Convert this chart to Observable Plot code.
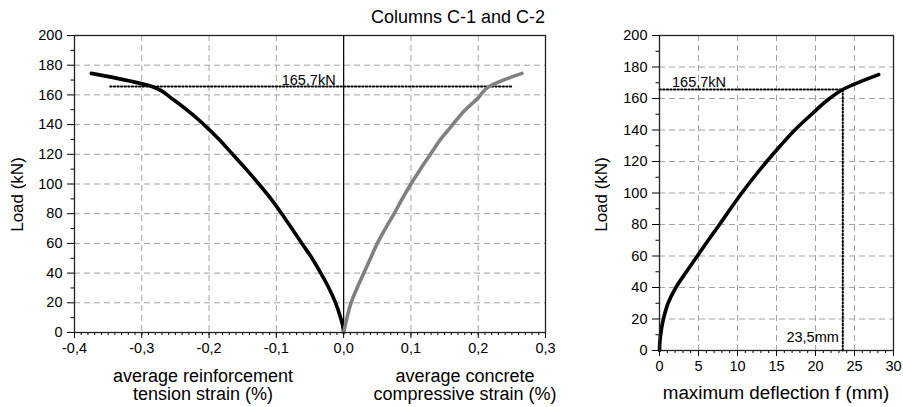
<!DOCTYPE html>
<html>
<head>
<meta charset="utf-8">
<script src="https://cdn.jsdelivr.net/npm/d3@7"></script>
<script src="https://cdn.jsdelivr.net/npm/@observablehq/plot@0.6"></script>
<style>
  body { margin: 0; background: #fff; }
  #wrap { position: relative; width: 903px; height: 407px; overflow: hidden;
          font-family: "Liberation Sans", Arial, sans-serif; color: #000; background: #fff; }
  .lbl { position: absolute; white-space: nowrap; line-height: 1; text-align: center; }
</style>
</head>
<body>
<div id="wrap"></div>
<script>
// ---------- data ----------
const tensionLoad   = [0, 5, 10, 20, 30, 40, 50, 60, 70, 80, 90, 100, 110, 120, 130, 138, 148, 157, 165.7, 174.5];
const tensionStrain = [0, -0.0015, -0.0045, -0.012, -0.022, -0.034, -0.047, -0.062, -0.077, -0.092, -0.108, -0.126, -0.145, -0.165, -0.185, -0.203, -0.228, -0.254, -0.285, -0.375];

const compLoad   = [0, 5, 10, 20, 30, 40, 50, 60, 70, 80, 90, 100, 110, 120, 130, 138, 150, 158, 165.5, 174.5];
const compStrain = [0, 0.0025, 0.005, 0.011, 0.020, 0.030, 0.040, 0.050, 0.062, 0.075, 0.087, 0.100, 0.114, 0.129, 0.144, 0.1585, 0.181, 0.200, 0.2155, 0.265];

const deflLoad  = [0, 5, 10, 20, 30, 40, 50, 60, 70, 80, 90, 100, 110, 120, 130, 140, 150, 160, 165.7, 175.2];
const deflValue = [0, 0.04, 0.14, 0.5, 1.1, 2.1, 3.45, 4.85, 6.25, 7.7, 9.1, 10.55, 12.1, 13.75, 15.5, 17.35, 19.5, 21.8, 23.5, 28.1];

const peakLoad = 165.7;          // kN
const peakDeflection = 23.5;     // mm
const peakLineStrain = [-0.347, 0.251];

const loadTicks   = [0, 20, 40, 60, 80, 100, 120, 140, 160, 180, 200];
const strainTicks = [-0.4, -0.3, -0.2, -0.1, 0, 0.1, 0.2, 0.3];
const deflTicks   = [0, 5, 10, 15, 20, 25, 30];

const loadMinor   = d3.range(10, 200, 20);
const strainMinor = d3.range(-40, 31, 1).map(d => d / 100);
const deflMinor   = d3.range(0, 31, 1);

// ---------- helpers ----------
const FONT = '"Liberation Sans", Arial, sans-serif';
const gridStyle = {stroke: "#a3a3a3", strokeOpacity: 1, strokeWidth: 1, strokeDasharray: "6,4"};
const dotted = {stroke: "#000", strokeWidth: 2, strokeDasharray: "1.4,2.2"};
const fmtStrain = d => (d < -1e-9 ? "-" : "") + Math.abs(d).toFixed(1).replace(".", ",");

const tension = tensionLoad.map((l, i) => ({strain: tensionStrain[i], load: l}));
const comp = compLoad.map((l, i) => ({strain: compStrain[i], load: l}));
const defl = deflLoad.map((l, i) => ({f: deflValue[i], load: l}));

const wrap = document.getElementById("wrap");

// ---------- left chart ----------
const left = Plot.plot({
  width: 560, height: 407,
  marginLeft: 74, marginRight: 15, marginTop: 35, marginBottom: 75,
  x: {domain: [-0.4, 0.3]},
  y: {domain: [0, 200]},
  style: {fontFamily: FONT, fontSize: "14.5px", background: "transparent", color: "#000"},
  marks: [
    Plot.gridX(strainTicks, gridStyle),
    Plot.gridY(loadTicks, gridStyle),
    Plot.ruleX([0], {stroke: "#000", strokeWidth: 1.2}),
    Plot.line(peakLineStrain.map(s => ({strain: s, load: peakLoad})), {x: "strain", y: "load", ...dotted}),
    Plot.line(tension, {x: "strain", y: "load", stroke: "#000", strokeWidth: 3.6, curve: "monotone-y", strokeLinejoin: "round"}),
    Plot.line(comp, {x: "strain", y: "load", stroke: "#808080", strokeWidth: 3.6, curve: "monotone-y", strokeLinejoin: "round"}),
    Plot.text([{strain: 0, load: peakLoad}], {x: "strain", y: "load", text: () => "165,7kN", textAnchor: "end", dx: -8, dy: -6, fontSize: 14.5}),
    Plot.axisX(strainTicks, {tickSize: 6, tickPadding: 4, tickFormat: fmtStrain, label: null}),
    Plot.axisX(strainMinor, {tickSize: 3, tickFormat: () => "", label: null}),
    Plot.axisY(loadTicks, {tickSize: 7, tickPadding: 5, label: null}),
    Plot.axisY(loadMinor, {tickSize: 3.5, tickFormat: () => "", label: null}),
    Plot.frame({stroke: "#222", strokeWidth: 1.3})
  ]
});
left.style.position = "absolute";
left.style.left = "0px";
left.style.top = "0px";
wrap.appendChild(left);

// ---------- right chart ----------
const right = Plot.plot({
  width: 343, height: 407,
  marginLeft: 99, marginRight: 10, marginTop: 35, marginBottom: 57,
  x: {domain: [0, 30]},
  y: {domain: [0, 200]},
  style: {fontFamily: FONT, fontSize: "14.5px", background: "transparent", color: "#000"},
  marks: [
    Plot.gridX(deflTicks, gridStyle),
    Plot.gridY(loadTicks, gridStyle),
    Plot.line([{f: 0, load: peakLoad}, {f: peakDeflection, load: peakLoad}, {f: peakDeflection, load: 0}], {x: "f", y: "load", ...dotted}),
    Plot.line(defl, {x: "f", y: "load", stroke: "#000", strokeWidth: 3.6, curve: "monotone-y", strokeLinejoin: "round"}),
    Plot.text([{f: 0, load: peakLoad}], {x: "f", y: "load", text: () => "165,7kN", textAnchor: "start", dx: 12.5, dy: -7.5, fontSize: 14.5}),
    Plot.text([{f: peakDeflection, load: 0}], {x: "f", y: "load", text: () => "23,5mm", textAnchor: "end", dx: -4, dy: -13.5, fontSize: 14.5}),
    Plot.axisX(deflTicks, {tickSize: 6, tickPadding: 4, label: null}),
    Plot.axisX(deflMinor, {tickSize: 3, tickFormat: () => "", label: null}),
    Plot.axisY(loadTicks, {tickSize: 7, tickPadding: 5, label: null}),
    Plot.axisY(loadMinor, {tickSize: 3.5, tickFormat: () => "", label: null}),
    Plot.frame({stroke: "#222", strokeWidth: 1.3})
  ]
});
right.style.position = "absolute";
right.style.left = "560px";
right.style.top = "0px";
wrap.appendChild(right);

// ---------- text labels ----------
function addLabel(text, cx, baseline, fs, opts = {}) {
  const d = document.createElement("div");
  d.className = "lbl";
  d.textContent = text;
  d.style.fontSize = fs + "px";
  const w = 320;
  if (opts.rotate) {
    const centerX = cx - 0.3465 * fs;
    d.style.width = w + "px";
    d.style.height = fs + "px";
    d.style.left = (centerX - w / 2) + "px";
    d.style.top = (baseline - fs / 2) + "px";
    d.style.transform = "rotate(-90deg)";
    d.style.transformOrigin = "50% 50%";
  } else if (opts.alignRight) {
    d.style.textAlign = "right";
    d.style.width = w + "px";
    d.style.left = (cx - w) + "px";
    d.style.top = (baseline - 0.8465 * fs) + "px";
  } else {
    d.style.width = w + "px";
    d.style.left = (cx - w / 2) + "px";
    d.style.top = (baseline - 0.8465 * fs) + "px";
  }
  wrap.appendChild(d);
}

addLabel("Columns C-1 and C-2", 545, 23, 18, {alignRight: true});
addLabel("average reinforcement", 203, 382, 18);
addLabel("tension strain (%)", 203, 400.5, 18);
addLabel("average concrete", 465, 382, 18);
addLabel("compressive strain (%)", 465, 400.5, 18);
addLabel("maximum deflection f (mm)", 776, 400, 18.8);
addLabel("Load (kN)", 23.3, 194.5, 17, {rotate: true});
addLabel("Load (kN)", 606.5, 194.5, 17, {rotate: true});
</script>
</body>
</html>
